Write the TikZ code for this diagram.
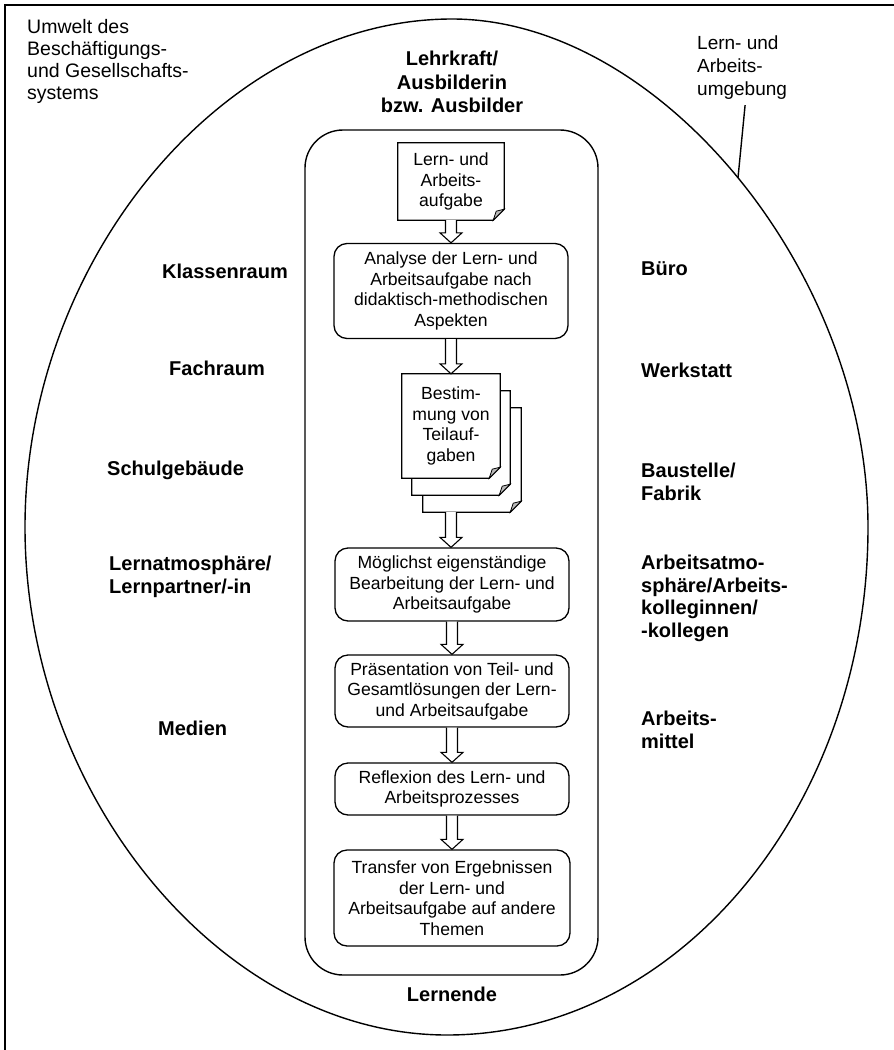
\documentclass[tikz,border=0pt]{standalone}
\usepackage{fontspec}
\setmainfont{Liberation Sans}
\usetikzlibrary{calc}
\pgfdeclarelayer{bg}
\pgfsetlayers{bg,main}
\tikzset{
  reg/.style={font=\fontsize{17.6}{20.5}\selectfont, align=center, inner sep=0pt},
  regl/.style={font=\fontsize{19.5}{22}\selectfont, align=left, inner sep=0pt},
  lbl/.style={font=\fontsize{20}{22.5}\selectfont\bfseries, align=left, inner sep=0pt},
  lblc/.style={font=\fontsize{20}{23.5}\selectfont\bfseries, align=center, inner sep=0pt},
  stepbox/.style={draw, line width=1.3pt, rounded corners=13pt, reg, minimum width=234pt},
  docbox/.style={reg, minimum width=98pt, minimum height=104pt},
  docline/.style={draw, line width=1.3pt, fill=white, line join=miter},
  foldtri/.style={draw, line width=0.8pt, fill=gray!55},
  harrow/.style={draw, line width=1.1pt, fill=white, line join=miter},
  thinline/.style={line width=1.4pt},
}
\newcommand\docoutline[1]{%
  \begin{pgfonlayer}{bg}
  \draw[docline] (#1.north west) -- (#1.north east) -- ([yshift=11pt]#1.south east)
    -- ([xshift=-11pt]#1.south east) -- (#1.south west) -- cycle;
  \draw[foldtri] ([yshift=11pt]#1.south east) -- ([xshift=-11pt]#1.south east)
    -- ([xshift=-8pt,yshift=9pt]#1.south east) -- cycle;
  \end{pgfonlayer}}
\newcommand\hollowarrow[2]{%
  \draw[harrow] let \p1=(#1), \p2=(#2) in
    (\x1-5.5pt,\y1) -- (\x1-5.5pt,\y2+10pt) -- (\x1-11pt,\y2+10pt) -- (\x1,\y2)
    -- (\x1+11pt,\y2+10pt) -- (\x1+5.5pt,\y2+10pt) -- (\x1+5.5pt,\y1);}
\begin{document}
\begin{tikzpicture}[x=1pt,y=-1pt]
\useasboundingbox (0,0) rectangle (894,1050);
% frame (top and left edges only)
\draw[line width=1.8pt] (5,1050) -- (5,5) -- (894,5);
\node[regl, anchor=north west] (umwelt) at (27,19)
  {Umwelt des\\Beschäftigungs-\\und Gesellschafts-\\systems};
% environment oval
\draw[thinline] (452,19) .. controls (660,19) and (868,273) .. (868,527)
  .. controls (868,806) and (679,1035) .. (447,1035)
  .. controls (223,1035) and (25,796) .. (25,527)
  .. controls (25,258) and (226,19) .. (452,19) -- cycle;
\path (452,19) .. controls (660,19) and (868,273) .. (868,527) coordinate[pos=0.5] (envpt);
\node[regl, anchor=north west, font=\fontsize{19}{23}\selectfont] (envlbl) at (697,36) {Lern- und\\Arbeits-\\umgebung};
\draw[thinline] ([xshift=3pt,yshift=-5pt]envlbl.south) -- (envpt);
% actors
\node[lblc, anchor=north] (lehr) at (452,51) {Lehrkraft/\\Ausbilderin\\bzw. Ausbilder};
\node[lblc, anchor=north] (lern) at (452,987) {Lernende};
% inner frame
\node[draw, thinline, rounded corners=38pt, minimum width=293pt, minimum height=845pt, inner sep=0pt] (inner) at (451.5,552.5) {};
% process
\node[docbox, minimum width=106pt, minimum height=77pt] (d1) at (451,181.5) {Lern- und\\Arbeits-\\aufgabe};
\docoutline{d1}
\node[stepbox, minimum height=95pt] (b1) at (451,291) {Analyse der Lern- und\\Arbeitsaufgabe nach\\didaktisch-methodischen\\Aspekten};
\node[docbox] (d2c) at (472,460) {};
\docoutline{d2c}
\node[docbox] (d2b) at (461,443) {};
\docoutline{d2b}
\node[docbox] (d2) at (451,426) {Bestim-\\mung von\\Teilauf-\\gaben};
\docoutline{d2}
\node[stepbox, minimum height=73pt] (b2) at (452,584.5) {Möglichst eigenständige\\Bearbeitung der Lern- und\\Arbeitsaufgabe};
\node[stepbox, minimum height=72pt] (b3) at (452,691) {Präsentation von Teil- und\\Gesamtlösungen der Lern-\\und Arbeitsaufgabe};
\node[stepbox, minimum height=52pt] (b4) at (452,789) {Reflexion des Lern- und\\Arbeitsprozesses};
\node[stepbox, minimum height=96pt, minimum width=236pt] (b5) at (452,898) {Transfer von Ergebnissen\\der Lern- und\\Arbeitsaufgabe auf andere\\Themen};
\hollowarrow{d1.south}{b1.north}
\hollowarrow{b1.south}{d2.north}
\hollowarrow{d2c.south -| d2.south}{b2.north}
\hollowarrow{b2.south}{b3.north}
\hollowarrow{b3.south}{b4.north}
\hollowarrow{b4.south}{b5.north}
% left labels
\node[lbl, anchor=north west] (l1) at (162,264) {Klassenraum};
\node[lbl, anchor=north west] (l2) at (169,361) {Fachraum};
\node[lbl, anchor=north west] (l3) at (107,461) {Schulgebäude};
\node[lbl, anchor=north west] (l4) at (109,556) {Lernatmosphäre/\\Lernpartner/-in};
\node[lbl, anchor=north west] (l5) at (158,721) {Medien};
% right labels
\node[lbl, anchor=north west] (r1) at (641,261) {Büro};
\node[lbl, anchor=north west] (r2) at (641,363) {Werkstatt};
\node[lbl, anchor=north west] (r3) at (641,463) {Baustelle/\\Fabrik};
\node[lbl, anchor=north west] (r4) at (641,555) {Arbeitsatmo-\\sphäre/Arbeits-\\kolleginnen/\\-kollegen};
\node[lbl, anchor=north west] (r5) at (641,711) {Arbeits-\\mittel};
\end{tikzpicture}
\end{document}
